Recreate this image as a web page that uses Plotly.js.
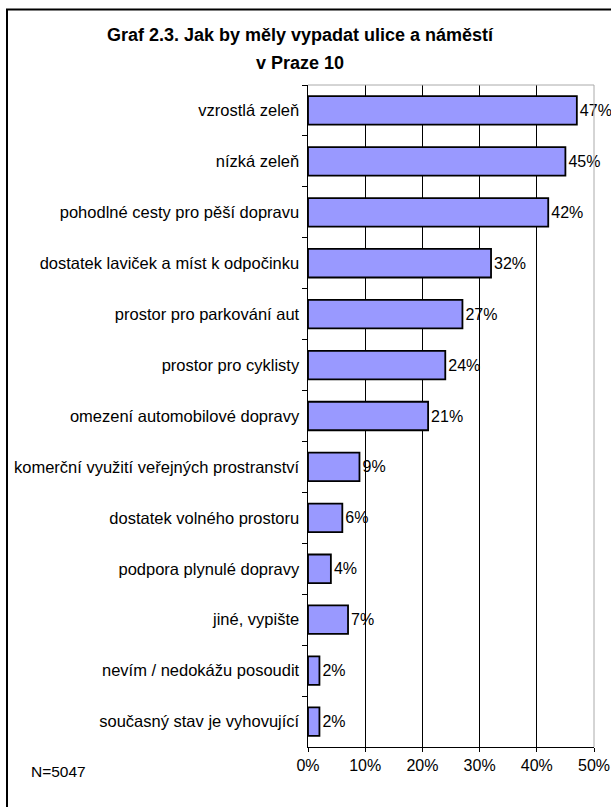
<!DOCTYPE html>
<html><head><meta charset="utf-8">
<script src="https://cdn.plot.ly/plotly-3.0.1.min.js"></script>
<style>html,body{margin:0;padding:0;background:#fff;}#chart{width:611px;height:807px;}</style>
</head><body><div id="chart"></div>
<script>
const categories = [
  "vzrostlá zeleň",
  "nízká zeleň",
  "pohodlné cesty pro pěší dopravu",
  "dostatek laviček a míst k odpočinku",
  "prostor pro parkování aut",
  "prostor pro cyklisty",
  "omezení automobilové dopravy",
  "komerční využití veřejných prostranství",
  "dostatek volného prostoru",
  "podpora plynulé dopravy",
  "jiné, vypište",
  "nevím / nedokážu posoudit",
  "současný stav je vyhovující"
];
const values = [0.47, 0.45, 0.42, 0.32, 0.27, 0.24, 0.21, 0.09, 0.06, 0.04, 0.07, 0.02, 0.02];
const valueLabels = ["47%", "45%", "42%", "32%", "27%", "24%", "21%", "9%", "6%", "4%", "7%", "2%", "2%"];
const tickVals = [0, 0.1, 0.2, 0.3, 0.4, 0.5];
const tickText = ["0%", "10%", "20%", "30%", "40%", "50%"];
const titleLine1 = "Graf 2.3. Jak by měly vypadat ulice a náměstí";
const titleLine2 = "v Praze 10";
const noteText = "N=5047";

const FONT = "Liberation Sans, Arial, sans-serif";
const W = 611, H = 807, L = 308, R = 17, T = 84.5, B = 59.5;
const pw = W - L - R, ph = H - T - B;
const px = x => (x - L) / pw;
const py = y => (H - B - y) / ph;
const titleFont = {family: FONT, size: 18, color: "#000", weight: "bold"};

const trace = {
  type: "bar", orientation: "h",
  y: categories, x: values,
  text: valueLabels, textposition: "outside", cliponaxis: false,
  textfont: {family: FONT, size: 16, color: "#000"},
  marker: {color: "#9999FF", line: {color: "#000", width: 1.8}},
  width: 0.56, hoverinfo: "none"
};

const layout = {
  width: W, height: H,
  margin: {l: L, r: R, t: T, b: B},
  paper_bgcolor: "#fff", plot_bgcolor: "#fff",
  showlegend: false,
  font: {family: FONT, size: 16, color: "#000"},
  title: {text: titleLine1, font: titleFont,
          x: 300 / W, xanchor: "center", xref: "container", y: 1 - 35 / H, yanchor: "middle"},
  xaxis: {range: [0, 0.5], tickvals: tickVals, ticktext: tickText,
          showgrid: true, gridcolor: "#000", gridwidth: 1,
          zeroline: false, showline: true, linecolor: "#000", linewidth: 1,
          ticks: "outside", ticklen: 4, tickcolor: "#000",
          tickfont: {family: FONT, size: 16}, mirror: false, fixedrange: true},
  yaxis: {autorange: "reversed", type: "category",
          showline: true, linecolor: "#000", linewidth: 1.5,
          ticks: "outside", ticklen: 5, tickcolor: "#000", tickson: "boundaries",
          showgrid: false, tickfont: {family: FONT, size: 16.5}, ticklabelstandoff: 4, fixedrange: true},
  shapes: [
    {type: "line", xref: "paper", yref: "paper", x0: 0, x1: 1, y0: 1, y1: 1, line: {color: "#aaa", width: 1}},
    {type: "line", xref: "paper", yref: "paper", x0: 1, x1: 1, y0: 0, y1: 1, line: {color: "#aaa", width: 1}},
    {type: "rect", xref: "paper", yref: "paper", x0: px(7), x1: px(640), y0: py(9), y1: py(830),
     line: {color: "#000", width: 2}, fillcolor: "rgba(0,0,0,0)"}
  ],
  annotations: [
    {text: titleLine2, xref: "paper", yref: "paper", x: px(300), y: py(62), xanchor: "center", yanchor: "middle",
     showarrow: false, font: titleFont},
    {text: noteText, xref: "paper", yref: "paper", x: px(29), y: py(772), xanchor: "left", yanchor: "middle",
     showarrow: false, font: {family: FONT, size: 15.5, color: "#000"}}
  ]
};

Plotly.newPlot("chart", [trace], layout, {displayModeBar: false, staticPlot: true});
</script></body></html>
